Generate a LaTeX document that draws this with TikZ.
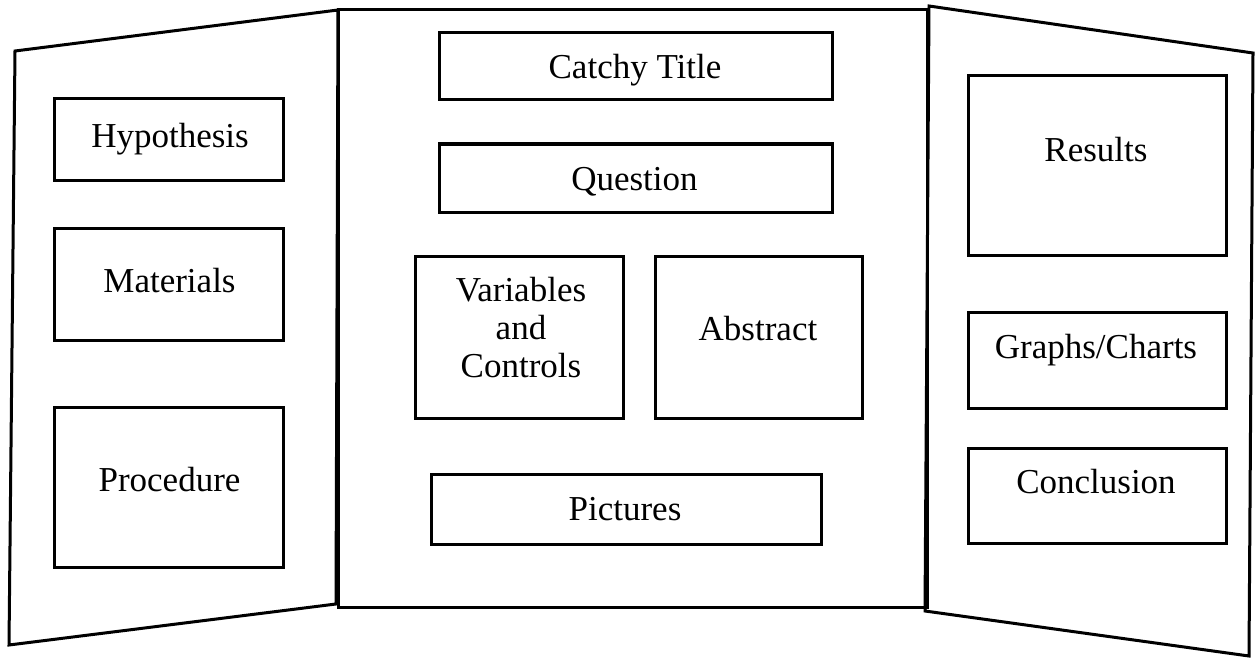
\documentclass[tikz,border=0pt]{standalone}
\usepackage{fontspec}
\setmainfont{Liberation Serif}
\begin{document}
\begin{tikzpicture}[x=1pt,y=-1pt,line width=3pt,
    board/.style={draw,line width=3pt,inner sep=0pt},
    caption/.style={font=\fontsize{35}{38.3}\selectfont,inner sep=0pt,anchor=base,align=center}]
      \useasboundingbox (0,0) rectangle (1255,658);
      % the three panels
      \draw (15,51) -- (338,10) -- (336,604) -- (9,645) -- cycle;
      \draw (338,10) rectangle (927,607);
      \draw (929,6) -- (1253,53) -- (1249,656) -- (925,611) -- cycle;
      % left panel
      \node[board,minimum width=229,minimum height=81] (hyp) at (168.5,139.5) {};
      \node[board,minimum width=229,minimum height=112] (mat) at (168.5,284) {};
      \node[board,minimum width=229,minimum height=160] (proc) at (168.5,487) {};
      \node[caption] (hyp-t) at (170,147) {Hypothesis};
      \node[caption] (mat-t) at (169.5,292) {Materials};
      \node[caption] (proc-t) at (169.5,491) {Procedure};
      % center panel
      \node[board,minimum width=393,minimum height=67] (title) at (635.5,66.5) {};
      \node[board,minimum width=393,minimum height=68] (quest) at (635.5,178) {};
      \node[board,minimum width=208,minimum height=162] (vars) at (519,337) {};
      \node[board,minimum width=207,minimum height=162] (abst) at (758.5,337) {};
      \node[board,minimum width=390,minimum height=70] (pics) at (626,509) {};
      \node[caption] (title-t) at (635,79) {Catchy Title};
      \node[caption] (quest-t) at (634.5,190) {Question};
      \node[caption,anchor=center] (vars-t) at (521,327.5) {Variables\\and\\Controls};
      \node[caption] (abst-t) at (758,340) {Abstract};
      \node[caption] (pics-t) at (625,520) {Pictures};
      % right panel
      \node[board,minimum width=258,minimum height=179] (res) at (1097,165.5) {};
      \node[board,minimum width=258,minimum height=96] (graph) at (1097,360) {};
      \node[board,minimum width=258,minimum height=95] (concl) at (1097,495.5) {};
      \node[caption] (res-t) at (1096,161) {Results};
      \node[caption] (graph-t) at (1096,358) {Graphs/Charts};
      \node[caption] (concl-t) at (1096,493) {Conclusion};
    \end{tikzpicture}
\end{document}
